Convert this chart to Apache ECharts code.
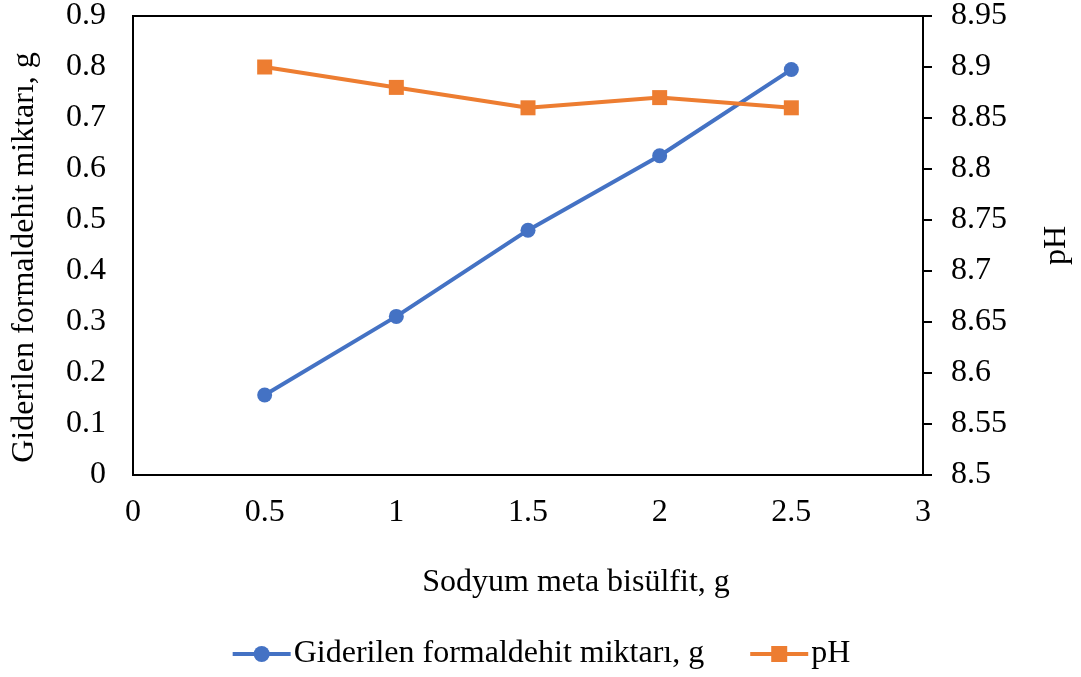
<!DOCTYPE html>
<html>
<head>
<meta charset="utf-8">
<script src="https://cdn.jsdelivr.net/npm/echarts@6/dist/echarts.min.js"></script>
<style>
  html, body { margin: 0; padding: 0; background: #fff; }
  #chart { width: 1081px; height: 677px; }
</style>
</head>
<body>
<div id="chart"></div>
<script>
// Sodium metabisulfite dose (g)
const doses = [0.5, 1, 1.5, 2, 2.5];
// Removed formaldehyde amount (g)
const removedFormaldehyde = [0.157, 0.311, 0.480, 0.626, 0.795];
// Solution pH
const phValues = [8.90, 8.88, 8.86, 8.87, 8.86];

const xTitle = 'Sodyum meta bisülfit, g';
const leftTitle = 'Giderilen formaldehit miktarı, g';
const rightTitle = 'pH';

const FONT = '"Liberation Serif", "Times New Roman", serif';
const textBase = { fontFamily: FONT, fontSize: 32, color: '#000' };

const chart = echarts.init(document.getElementById('chart'), null, { renderer: 'canvas' });

const trim = v => String(parseFloat(v.toFixed(2)));

chart.setOption({
  animation: false,
  backgroundColor: '#fff',
  grid: {
    left: 133, right: 157, top: 14, bottom: 202,
    show: true, borderColor: '#000', borderWidth: 2
  },
  legend: {
    bottom: 2,
    left: 'center',
    itemWidth: 58,
    itemHeight: 20,
    itemGap: 44,
    lineStyle: { width: 4 },
    textStyle: Object.assign({}, textBase, { padding: [0, 0, 0, -2] }),
    data: [leftTitle, rightTitle]
  },
  xAxis: {
    type: 'value',
    min: 0, max: 3, interval: 0.5,
    name: xTitle,
    nameLocation: 'middle',
    nameGap: 92,
    nameTextStyle: Object.assign({}, textBase, { padding: [0, 0, 0, 96] }),
    axisLine: { show: true, lineStyle: { color: '#000', width: 2 } },
    axisTick: { show: false },
    splitLine: { show: false },
    axisLabel: Object.assign({}, textBase, { margin: 22, formatter: trim })
  },
  yAxis: [
    {
      type: 'value',
      position: 'left',
      min: 0, max: 0.9, interval: 0.1,
      name: leftTitle,
      nameLocation: 'middle',
      nameRotate: 90,
      nameGap: 92,
      nameTextStyle: Object.assign({}, textBase, { padding: [0, 24, 0, 0] }),
      axisLine: { show: true, lineStyle: { color: '#000', width: 2 } },
      axisTick: { show: false },
      splitLine: { show: false },
      axisLabel: Object.assign({}, textBase, { margin: 27, formatter: trim })
    },
    {
      type: 'value',
      position: 'right',
      min: 8.5, max: 8.95, interval: 0.05,
      name: rightTitle,
      nameLocation: 'middle',
      nameRotate: 90,
      nameGap: 118,
      nameTextStyle: textBase,
      axisLine: { show: true, lineStyle: { color: '#000', width: 2 } },
      axisTick: { show: true, inside: false, length: 9, lineStyle: { color: '#000', width: 2 } },
      splitLine: { show: false },
      axisLabel: Object.assign({}, textBase, { margin: 28, formatter: trim })
    }
  ],
  series: [
    {
      name: leftTitle,
      type: 'line',
      yAxisIndex: 0,
      data: doses.map((d, i) => [d, removedFormaldehyde[i]]),
      symbol: 'circle',
      symbolSize: 15,
      itemStyle: { color: '#4472C4' },
      lineStyle: { color: '#4472C4', width: 4 },
      z: 2
    },
    {
      name: rightTitle,
      type: 'line',
      yAxisIndex: 1,
      data: doses.map((d, i) => [d, phValues[i]]),
      symbol: 'rect',
      symbolSize: 15,
      itemStyle: { color: '#ED7D31' },
      lineStyle: { color: '#ED7D31', width: 4 },
      z: 3
    }
  ]
});
</script>
</body>
</html>
